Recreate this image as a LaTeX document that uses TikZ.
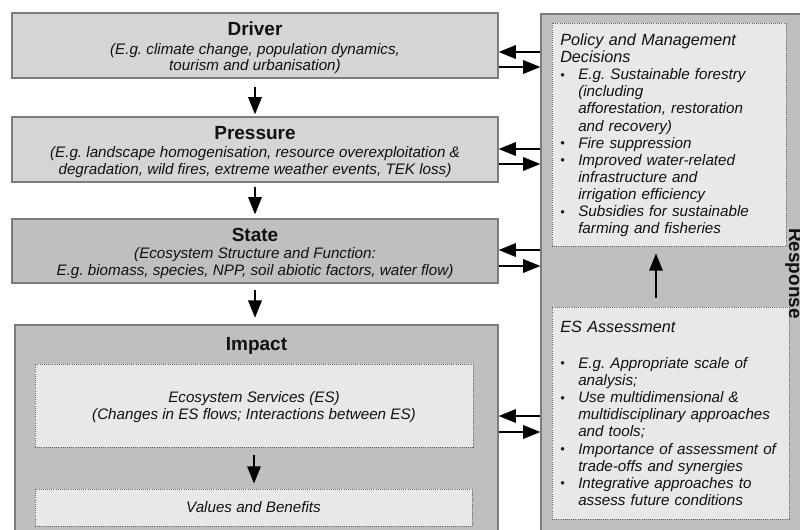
\documentclass[tikz,border=0pt]{standalone}
\usepackage{fontspec}
\setmainfont{Liberation Sans}
\usetikzlibrary{arrows.meta,calc,fit}
\definecolor{lightbox}{HTML}{D5D5D5}
\definecolor{darkbox}{HTML}{BFBFBF}
\definecolor{innerbox}{HTML}{E8E8E8}
\definecolor{edgecol}{HTML}{7C7C7C}
\definecolor{txt}{HTML}{111111}
\newcommand{\myblt}{\makebox[13.5pt][l]{\hspace{0pt}\raisebox{0.4pt}{\fontsize{9.5}{9.5}\selectfont •}}}
\newcommand{\myind}{\hspace*{13.5pt}}
\frenchspacing
\begin{document}
\frenchspacing
\begin{tikzpicture}[x=0.75pt,y=-0.75pt,
 box/.style={draw=edgecol, line width=0.8pt, inner sep=0pt},
 inbox/.style={draw=black!60, densely dotted, line width=0.6pt, fill=innerbox, inner sep=0pt},
 ttl/.style={font=\fontsize{14.25}{16}\selectfont\bfseries, text=txt, inner sep=0pt, anchor=base},
 bod/.style={font=\fontsize{11.4}{12}\selectfont\itshape, text=txt, inner sep=0pt, anchor=base},
 rhead/.style={font=\fontsize{12.15}{13.1}\selectfont\itshape, text=txt, inner sep=0pt, anchor=base west, text width=200pt, align=left},
 rlist/.style={font=\fontsize{11.4}{12.83}\selectfont\itshape, text=txt, inner sep=0pt, anchor=base west, text width=200pt, align=left},
 arr/.style={line width=1.7pt, draw=black, -{Triangle[length=13pt,width=10pt]}},
]
\useasboundingbox (0,0) rectangle (800,529);
\clip (0,0) rectangle (800,529);
\fill[white] (0,0) rectangle (800,529);

% left column boxes
\node[box, fill=lightbox, fit={(12,13) (498,78)}] (drv) {};
\node[box, fill=lightbox, fit={(12,117) (498,182)}] (prs) {};
\node[box, fill=darkbox, fit={(12,219) (498,283)}] (sta) {};
\node[box, fill=darkbox, fit={(15,325) (498,560)}] (imp) {};
\node[inbox, fit={(35,364) (473,447)}] (ess) {};
\node[inbox, fit={(35,489) (472,526)}] (val) {};

% response column
\node[box, fill=darkbox, fit={(541,14) (830,560)}] (resp) {};
\node[inbox, fit={(552,23) (786,246)}] (pol) {};
\node[inbox, fit={(552,307) (789,519)}] (esa) {};

% texts left
\node[ttl] (drvt) at (255,35) {Driver};
\node[bod] (drv1) at (255,54) {(E.g. climate change, population dynamics,};
\node[bod] (drv2) at (255,70) {tourism and urbanisation)};
\node[ttl] (prst) at (255,139) {Pressure};
\node[bod] (prs1) at (255,157) {(E.g. landscape homogenisation, resource overexploitation \&};
\node[bod] (prs2) at (255,174) {degradation, wild fires, extreme weather events, TEK loss)};
\node[ttl] (stat) at (255,241) {State};
\node[bod] (sta1) at (255,258.3) {(Ecosystem Structure and Function:};
\node[bod] (sta2) at (255,275) {E.g. biomass, species, NPP, soil abiotic factors, water flow)};
\node[ttl] (impt) at (256.5,350) {Impact};
\node[bod] (ess1) at (254,402.7) {Ecosystem Services (ES)};
\node[bod] (ess2) at (254,419.5) {(Changes in ES flows; Interactions between ES)};
\node[bod] (val1) at (253.5,512.5) {Values and Benefits};

% texts right
\node[rhead] (polh) at (560,45.5) {Policy and Management\\Decisions};
\node[rlist] (poll) at (560,79.7) {\myblt E.g.\ Sustainable forestry\\
\myind (including\\
\myind afforestation, restoration\\
\myind and recovery)\\
\myblt Fire suppression\\
\myblt Improved water-related\\
\myind infrastructure and\\
\myind irrigation efficiency\\
\myblt Subsidies for sustainable\\
\myind farming and fisheries};
\node[rhead] (esah) at (560,332.5) {ES Assessment};
\node[rlist] (esal) at (560,368.5) {\myblt E.g.\ Appropriate scale of\\
\myind analysis;\\
\myblt Use multidimensional \&\\
\myind multidisciplinary approaches\\
\myind and tools;\\
\myblt Importance of assessment of\\
\myind trade-offs and synergies\\
\myblt Integrative approaches to\\
\myind assess future conditions};
\node[ttl, rotate=-90] (respt) at (789,273.5) {Response};

% vertical arrows
\draw[arr, shorten <=6pt, shorten >=1.5pt] (drv.south) -- (prs.north);
\draw[arr, shorten <=3pt, shorten >=3pt] (prs.south) -- (sta.north);
\draw[arr, shorten <=5pt, shorten >=5pt] (sta.south) -- (sta.south |- imp.north);
\draw[arr, shorten <=6pt, shorten >=3.75pt] (ess.south) -- (ess.south |- val.north);
\draw[arr, shorten <=6.75pt, shorten >=5.25pt] ([xshift=-10.9pt]esa.north) -- ([xshift=-10.9pt]esa.north |- pol.south);

% horizontal arrows
\draw[arr] ($(drv.east -| resp.west)+(0,6.5)$) -- ($(drv.east)+(0,6.5)$);
\draw[arr] ($(drv.east)+(0,21.5)$) -- ($(drv.east -| resp.west)+(0,21.5)$);
\draw[arr] ($(prs.east -| resp.west)+(0,-0.5)$) -- ($(prs.east)+(0,-0.5)$);
\draw[arr] ($(prs.east)+(0,14.5)$) -- ($(prs.east -| resp.west)+(0,14.5)$);
\draw[arr] ($(sta.east -| resp.west)+(0,-1)$) -- ($(sta.east)+(0,-1)$);
\draw[arr] ($(sta.east)+(0,15)$) -- ($(sta.east -| resp.west)+(0,15)$);
\draw[arr] ($(ess.east -| resp.west)+(0,10.5)$) -- ($(ess.east -| imp.east)+(0,10.5)$);
\draw[arr] ($(ess.east -| imp.east)+(0,26.5)$) -- ($(ess.east -| resp.west)+(0,26.5)$);
\end{tikzpicture}
\end{document}
